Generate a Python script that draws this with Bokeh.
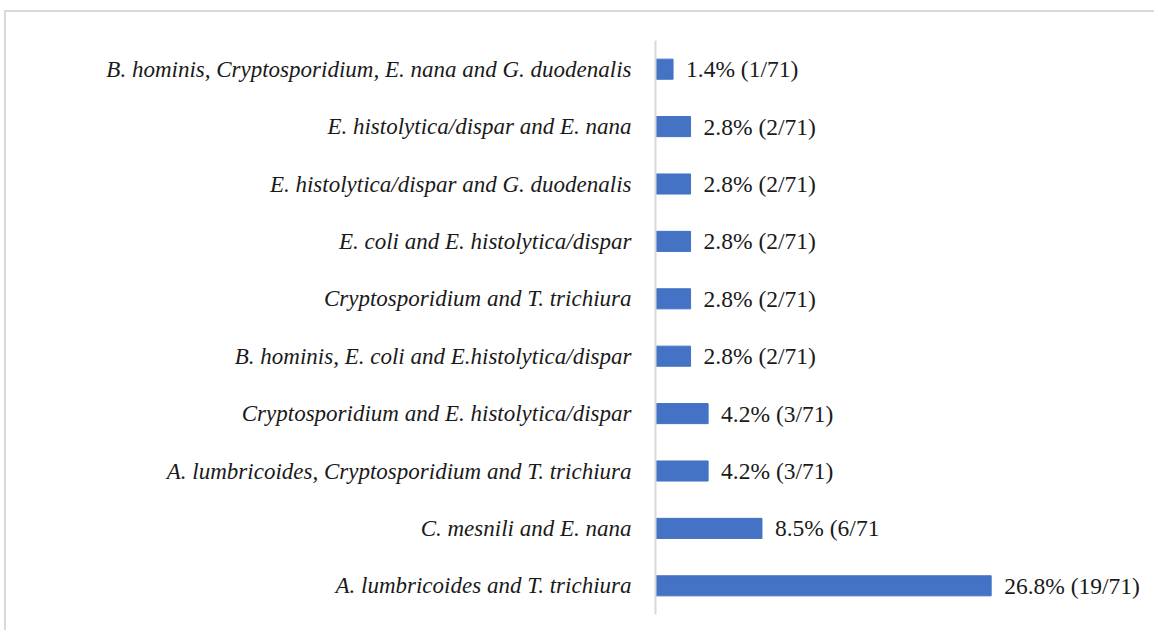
from bokeh.plotting import figure
from bokeh.models import ColumnDataSource, FactorRange, Range1d
from bokeh.core.properties import value
from bokeh.embed import file_html
from bokeh.resources import INLINE

categories = [
    "A. lumbricoides and T. trichiura",
    "C. mesnili and E. nana",
    "A. lumbricoides, Cryptosporidium and T. trichiura",
    "Cryptosporidium and E. histolytica/dispar",
    "B. hominis, E. coli and E.histolytica/dispar",
    "Cryptosporidium and T. trichiura",
    "E. coli and E. histolytica/dispar",
    "E. histolytica/dispar and G. duodenalis",
    "E. histolytica/dispar and E. nana",
    "B. hominis, Cryptosporidium, E. nana and G. duodenalis",
]
percents = [26.8, 8.5, 4.2, 4.2, 2.8, 2.8, 2.8, 2.8, 2.8, 1.4]
labels = [
    "26.8% (19/71)",
    "8.5% (6/71",
    "4.2% (3/71)",
    "4.2% (3/71)",
    "2.8% (2/71)",
    "2.8% (2/71)",
    "2.8% (2/71)",
    "2.8% (2/71)",
    "2.8% (2/71)",
    "1.4% (1/71)",
]

src = ColumnDataSource(dict(cat=categories, val=percents, lab=labels))

p = figure(
    width=1150, height=620,
    y_range=FactorRange(factors=categories, range_padding=0),
    x_range=Range1d(0, 40.0),
    output_backend="svg", toolbar_location=None,
    min_border_left=649, min_border_top=28, min_border_bottom=18, min_border_right=0,
)
p.styles = {"border-top": "2px solid #d9d9d9", "border-left": "2px solid #d9d9d9",
            "margin-left": "4px", "margin-top": "10px"}

p.hbar(y="cat", right="val", left=0, height=0.35, source=src,
       fill_color="#4472C4", line_color="#4472C4")
p.text(x="val", y="cat", text="lab", source=src, x_offset=13,
       text_baseline="middle", text_align="left",
       text_font=value("Liberation Serif"), text_font_size="23.5px",
       text_color="#1a1a1a")

p.xaxis.visible = False
p.xgrid.visible = False
p.ygrid.visible = False
p.outline_line_color = None

ax = p.yaxis[0]
ax.axis_line_color = "#d9d9d9"
ax.axis_line_width = 2
ax.major_tick_line_color = None
ax.minor_tick_line_color = None
ax.major_tick_out = 0
ax.major_label_standoff = 24
ax.major_label_text_font = "Liberation Serif"
ax.major_label_text_font_style = "italic"
ax.major_label_text_font_size = "23px"
ax.major_label_text_color = "#1a1a1a"

open("out.html", "w").write(file_html(p, INLINE))
